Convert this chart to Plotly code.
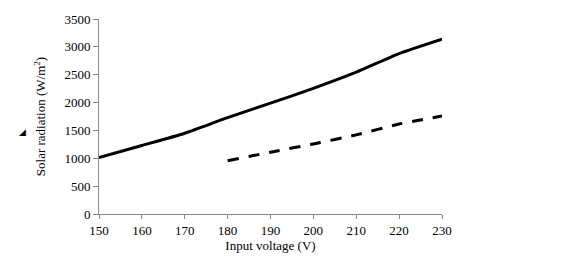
import plotly.graph_objects as go

voltage_solid = [150, 160, 170, 180, 190, 200, 210, 220, 230]
radiation_solid = [1015, 1230, 1450, 1730, 1990, 2255, 2545, 2880, 3140]
voltage_dashed = [180, 190, 200, 210, 220, 230]
radiation_dashed = [955, 1110, 1258, 1420, 1615, 1758]

x_ticks = [150, 160, 170, 180, 190, 200, 210, 220, 230]
y_ticks = [0, 500, 1000, 1500, 2000, 2500, 3000, 3500]

font = dict(family="Liberation Serif", size=13, color="black")

fig = go.Figure()
fig.add_trace(go.Scatter(x=voltage_solid, y=radiation_solid, mode="lines",
                         line=dict(color="black", width=3, shape="spline", smoothing=0.6),
                         showlegend=False))
fig.add_trace(go.Scatter(x=voltage_dashed, y=radiation_dashed, mode="lines",
                         line=dict(color="black", width=3, dash="11px,10px", shape="spline", smoothing=0.6),
                         showlegend=False))

pw, ph = 579 - 99 - 137, 259 - 14 - 42

fig.update_layout(
    width=579, height=259,
    margin=dict(l=99, r=137, t=14, b=42),
    paper_bgcolor="white", plot_bgcolor="white",
    font=font,
    xaxis=dict(range=[150, 230], tickvals=x_ticks, showgrid=False, zeroline=False,
               showline=True, linecolor="#888888", linewidth=1,
               ticks="outside", ticklen=4, tickcolor="#888888",
               title=dict(text="Input voltage (V)", standoff=0, font=font)),
    yaxis=dict(range=[0, 3500], tickvals=y_ticks, showgrid=False, zeroline=False,
               showline=True, linecolor="#888888", linewidth=1,
               ticks="outside", ticklen=5, tickcolor="#888888",
               title=dict(text="Solar radiation (W/m<sup>2</sup>)", standoff=15, font=font)),
    annotations=[dict(text="◢", x=(17 - 99) / pw, y=(259 - 42 - 132) / ph,
                      xref="paper", yref="paper", showarrow=False,
                      font=dict(size=9, color="black"))],
)
fig.write_html("out.html")
